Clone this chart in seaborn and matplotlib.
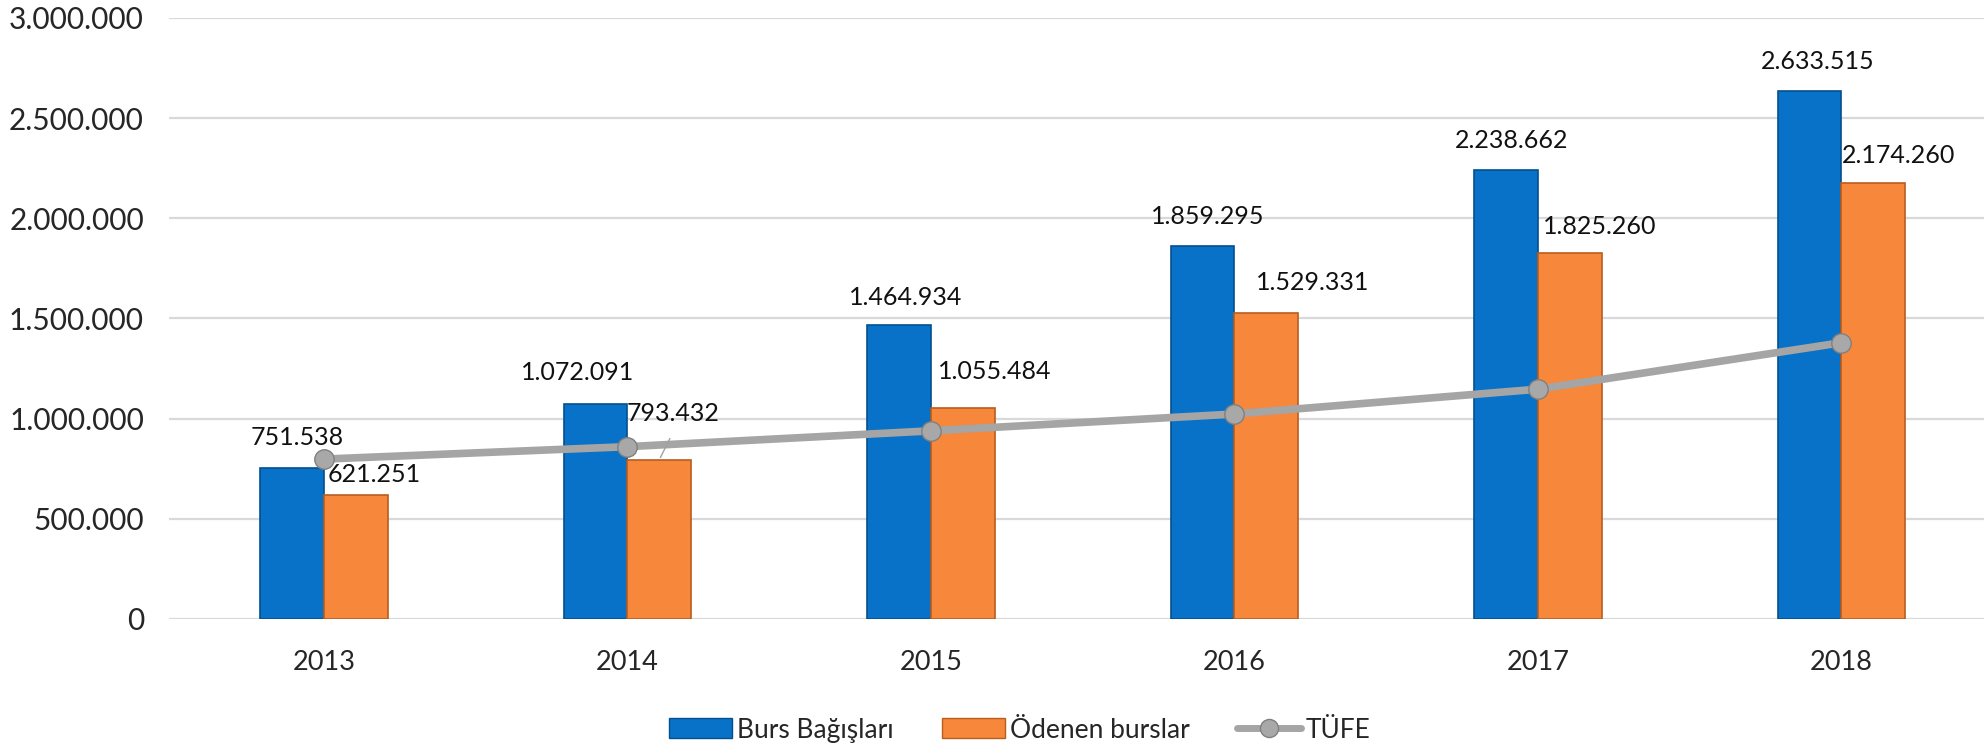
import numpy as np
import pandas as pd
import matplotlib.pyplot as plt
import matplotlib.ticker as mticker
from matplotlib.patches import Patch
from matplotlib.lines import Line2D
import seaborn as sns

# ── Veri ─────────────────────────────────────────────────────────────────────
yillar = ["2013", "2014", "2015", "2016", "2017", "2018"]
burs_bagislari = [751538, 1072091, 1464934, 1859295, 2238662, 2633515]
odenen_burslar = [621251, 793432, 1055484, 1529331, 1825260, 2174260]
tufe = [798000, 860000, 939000, 1023000, 1147000, 1379000]

SERI = ["Burs Bağışları", "Ödenen burslar"]
RENK = {"Burs Bağışları": "#0872C8", "Ödenen burslar": "#F7873A"}
KENAR = {"Burs Bağışları": "#04508F", "Ödenen burslar": "#B85E1E"}
TUFE_RENK = "#A5A5A5"

# etiket kaydırmaları (piksel)
ofs_mavi = [(5, 31), (-18, 32), (7, 28), (5, 30), (6, 30), (8, 30)]
ofs_turuncu = [(19, 20), (14, 47), (32, 36), (46, 30), (30, 27), (25, 28)]

df = pd.DataFrame({
    "yil": yillar * 2,
    "seri": [SERI[0]] * 6 + [SERI[1]] * 6,
    "deger": burs_bagislari + odenen_burslar,
})

sns.set_style("white")
plt.rcParams["font.family"] = ["Lato", "DejaVu Sans"]

fig = plt.figure(figsize=(19.88, 7.48), dpi=100)
ax = fig.add_axes([0.085, 0.1725, 0.913, 0.8035])

sns.barplot(data=df, x="yil", y="deger", hue="seri", order=yillar,
            hue_order=SERI, palette=RENK, width=0.42, ax=ax,
            saturation=1, legend=False, errorbar=None)

for cont, s in zip(ax.containers, SERI):
    for bar in cont:
        bar.set_edgecolor(KENAR[s])
        bar.set_linewidth(1.2)
        bar.set_zorder(3)

# TÜFE çizgisi
xpos = np.arange(len(yillar))
sns.lineplot(x=xpos, y=tufe, ax=ax, color=TUFE_RENK, lw=5.5, marker="o",
             markersize=14, markerfacecolor="#A8A8A8", markeredgecolor="#808080",
             markeredgewidth=1, zorder=5, legend=False)

# Veri etiketleri
fmt = lambda v: f"{v:,.0f}".replace(",", ".")
for cont, ofs in zip(ax.containers, [ofs_mavi, ofs_turuncu]):
    for bar, (dx, dy) in zip(cont, ofs):
        x = bar.get_x() + bar.get_width() / 2
        y = bar.get_height()
        ax.annotate(fmt(y), (x, y), xytext=(dx, dy), textcoords="offset pixels",
                    ha="center", va="center", fontsize=18, color="#111111", zorder=6)

# 793.432 için bağlantı çizgisi
b = ax.containers[1][1]
ax.annotate("", xy=(b.get_x() + b.get_width() / 2, b.get_height()),
            xytext=(12, 24), textcoords="offset pixels",
            arrowprops=dict(arrowstyle="-", color="#A0A0A0", lw=1), zorder=6)

ax.set_ylim(0, 3000000)
ax.set_xlim(-0.51, 5.47)
ax.yaxis.set_major_locator(mticker.MultipleLocator(500000))
ax.yaxis.set_major_formatter(mticker.FuncFormatter(lambda v, p: fmt(v)))
ax.grid(axis="y", color="#D9D9D9", lw=1.6, zorder=0)
ax.set_axisbelow(True)
for sp in ax.spines.values():
    sp.set_visible(False)
ax.tick_params(axis="y", length=0, pad=18, labelsize=21.5)
ax.tick_params(axis="x", length=0, pad=22, labelsize=19.5)
ax.set_xlabel("")
ax.set_ylabel("")

handles = [
    Patch(facecolor=RENK[SERI[0]], edgecolor=KENAR[SERI[0]], label=SERI[0]),
    Patch(facecolor=RENK[SERI[1]], edgecolor=KENAR[SERI[1]], label=SERI[1]),
    Line2D([0], [0], color=TUFE_RENK, lw=5, marker="o", markersize=13,
           markerfacecolor="#A8A8A8", markeredgecolor="#808080", label="TÜFE"),
]
fig.legend(handles=handles, loc="center", bbox_to_anchor=(0.513, 0.024), ncol=3,
           frameon=False, fontsize=19, handlelength=2.4, handleheight=0.8,
           columnspacing=1.8, handletextpad=0.2)

fig.savefig("out.png", dpi=100)
